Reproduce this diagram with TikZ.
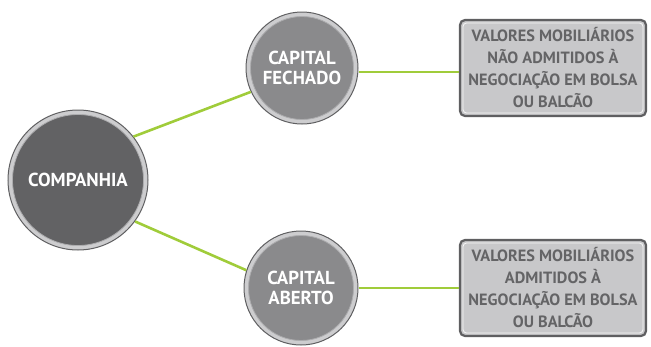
\documentclass[tikz,border=0pt]{standalone}
\usepackage{fontspec}
\setmainfont{PT Sans}
\definecolor{lgreen}{RGB}{160,204,58}
\definecolor{dgray}{RGB}{98,98,100}
\definecolor{mgray}{RGB}{138,138,140}
\definecolor{ring}{RGB}{205,205,207}
\definecolor{edge}{RGB}{95,95,97}
\definecolor{boxfill}{RGB}{200,200,202}
\definecolor{boxtext}{RGB}{100,100,102}
\begin{document}
\begin{tikzpicture}[x=1pt,y=-1pt,
  conn/.style={draw=lgreen,line width=2.6pt},
  circ/.style={circle,draw=edge,line width=1pt,fill=ring,minimum size=#1,inner sep=0pt},
  inner/.style={circle,draw=mgray!70!white,line width=0.8pt,fill=#1,inner sep=0pt},
  ctext/.style={text=white,font=\bfseries\fontsize{18.8}{20}\selectfont,align=center},
  vbox/.style={rounded corners=5pt,draw=edge,line width=2.2pt,fill=boxfill,
    minimum width=186pt,minimum height=96pt,text=boxtext,align=center,
    font=\bfseries\fontsize{16.3}{22}\selectfont},
  vedge/.style={rounded corners=3.5pt,draw=white!85!boxfill,line width=0.8pt,
    minimum width=180pt,minimum height=90pt,inner sep=0pt}]
\useasboundingbox (0,0) rectangle (651,346);
% circles
\node[circ=140pt] (comp) at (78,180) {};
\node[inner=dgray,minimum size=131pt] (compi) at (comp.center) {};
\node[ctext] (compt) at (comp.center) {COMPANHIA};
\node[circ=112pt] (fech) at (302,68) {};
\node[inner=mgray,minimum size=103pt] (fechi) at (fech.center) {};
\node[ctext] (fecht) at (fech.center) {CAPITAL\\FECHADO};
\node[circ=114pt] (aber) at (301,288) {};
\node[inner=mgray,minimum size=105pt] (aberi) at (aber.center) {};
\node[ctext] (abert) at (aber.center) {CAPITAL\\ABERTO};
% boxes
\node[vbox] (box1) at (553,68) {};
\node[vedge] (box1e) at (box1.center) {};
\node[text=boxtext,align=center,font=\bfseries\fontsize{16.3}{22}\selectfont] (box1t) at (box1.center) {VALORES MOBILIÁRIOS\\NÃO ADMITIDOS À\\NEGOCIAÇÃO EM BOLSA\\OU BALCÃO};
\node[vbox] (box2) at (553,288) {};
\node[vedge] (box2e) at (box2.center) {};
\node[text=boxtext,align=center,font=\bfseries\fontsize{16.3}{22}\selectfont] (box2t) at (box2.center) {VALORES MOBILIÁRIOS\\ADMITIDOS À\\NEGOCIAÇÃO EM BOLSA\\OU BALCÃO};
% connectors
\draw[conn] (comp.38) -- (fech.205);
\draw[conn] (comp.-36) -- (aber.162);
\draw[conn] ([yshift=-4pt]fech.east) -- ([yshift=-4pt]fech.east -| box1.west);
\draw[conn] (aber.east) -- (aber.east -| box2.west);
\end{tikzpicture}
\end{document}
